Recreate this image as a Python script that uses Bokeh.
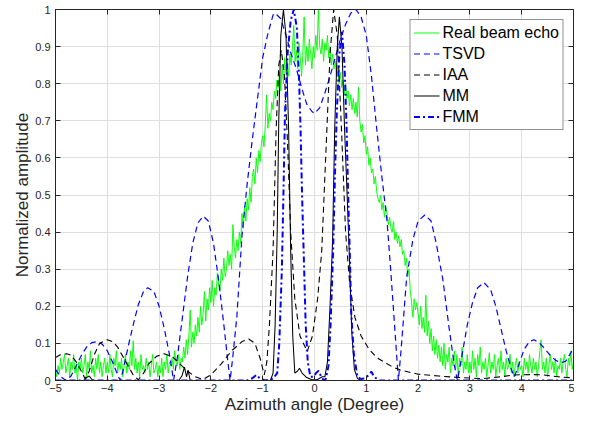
from bokeh.plotting import figure
from bokeh.models import Range1d, FixedTicker, LinearAxis
from bokeh.embed import file_html
from bokeh.resources import INLINE

# ---------------- data ----------------
x_ticks = [-5, -4, -3, -2, -1, 0, 1, 2, 3, 4, 5]
y_ticks = [0, 0.1, 0.2, 0.3, 0.4, 0.5, 0.6, 0.7, 0.8, 0.9, 1]
y_tick_labels = ["0", "0.1", "0.2", "0.3", "0.4", "0.5", "0.6", "0.7", "0.8", "0.9", "1"]

# Real beam echo, sampled every 0.025 degree from -5 to 5
green_step = 0.025
green_y = [
    0.03,0.01,0.04,0.02,0.06,0.03,0.05,0.07,0.02,0.04,0.06,0.01,0.05,0.03,0.07,0.02,0.04,0.0,0.05,0.03,
    0.06,0.02,0.04,0.07,0.01,0.05,0.03,0.08,0.02,0.04,0.01,0.06,0.03,0.07,0.02,0.05,0.01,0.04,0.06,0.02,
    0.05,0.02,0.07,0.03,0.01,0.06,0.04,0.08,0.02,0.05,0.03,0.06,0.01,0.04,0.07,0.02,0.05,0.03,0.08,0.04,
    0.107,0.03,0.06,0.02,0.05,0.01,0.07,0.03,0.04,0.02,0.06,0.03,0.05,0.01,0.04,0.07,0.02,0.03,0.05,0.01,
    0.04,0.02,0.06,0.01,0.05,0.03,0.07,0.02,0.05,0.04,0.06,0.03,0.08,0.05,0.04,0.07,0.03,0.06,0.05,0.09,
    0.06,0.11,0.07,0.12,0.19,0.09,0.13,0.1,0.15,0.12,0.17,0.13,0.2,0.15,0.18,0.24,0.16,0.22,0.19,0.25,
    0.21,0.27,0.2,0.25,0.23,0.29,0.26,0.24,0.3,0.27,0.33,0.28,0.3,0.35,0.31,0.34,0.3,0.42,0.36,0.33,
    0.38,0.35,0.4,0.37,0.45,0.41,0.47,0.43,0.49,0.46,0.52,0.48,0.55,0.57,0.53,0.6,0.56,0.62,0.59,0.64,
    0.66,0.63,0.69,0.77,0.68,0.72,0.7,0.75,0.73,0.78,0.76,0.81,0.79,0.83,0.78,0.85,0.8,0.87,0.83,0.86,
    0.82,0.88,0.85,0.9,0.957,0.86,0.89,0.84,0.91,0.87,0.82,0.88,0.98,0.85,0.9,0.86,0.92,0.88,0.84,0.9,
    0.87,0.93,0.89,1.0,0.9,0.88,0.92,0.86,0.91,0.89,0.93,0.87,0.9,0.85,0.88,0.84,0.86,0.82,0.85,0.8,
    0.83,0.79,0.81,0.77,0.8,0.76,0.78,0.74,0.77,0.73,0.76,0.72,0.75,0.71,0.79,0.7,0.67,0.69,0.64,0.66,
    0.61,0.63,0.58,0.6,0.56,0.57,0.53,0.55,0.51,0.49,0.48,0.5,0.46,0.48,0.44,0.47,0.45,0.42,0.44,0.41,
    0.4,0.43,0.38,0.4,0.37,0.39,0.36,0.38,0.34,0.35,0.31,0.33,0.28,0.3,0.24,0.21,0.17,0.22,0.19,0.21,
    0.18,0.15,0.2,0.14,0.17,0.13,0.23,0.12,0.16,0.1,0.14,0.08,0.12,0.07,0.11,0.06,0.095,0.05,0.09,0.04,
    0.1,0.03,0.07,0.05,0.09,0.02,0.06,0.04,0.08,0.03,0.07,0.01,0.06,0.04,0.09,0.02,0.05,0.03,0.07,0.02,
    0.05,0.02,0.08,0.03,0.06,0.01,0.07,0.04,0.09,0.02,0.05,0.03,0.06,0.01,0.04,0.075,0.02,0.05,0.03,0.07,
    0.01,0.04,0.06,0.02,0.08,0.03,0.05,0.01,0.06,0.03,0.04,0.07,0.02,0.05,0.01,0.04,0.06,0.02,0.05,0.03,
    0.04,0.01,0.06,0.03,0.05,0.02,0.07,0.04,0.02,0.06,0.03,0.05,0.01,0.04,0.08,0.11,0.03,0.05,0.02,0.06,
    0.01,0.04,0.07,0.03,0.05,0.02,0.06,0.01,0.04,0.03,0.06,0.02,0.05,0.07,0.03,0.01,0.06,0.04,0.08,0.03,
    0.05,
]
green_x = [round(-5 + green_step * i, 4) for i in range(len(green_y))]

tsvd_x = [-5.0,-4.9,-4.8,-4.7,-4.6,-4.5,-4.4,-4.3,-4.2,-4.1,-4.0,-3.9,-3.8,-3.75,-3.7,-3.6,-3.5,-3.4,-3.3,-3.22,
          -3.1,-3.0,-2.9,-2.8,-2.72,-2.65,-2.55,-2.45,-2.35,-2.25,-2.15,-2.05,-1.95,-1.85,-1.75,-1.68,-1.63,-1.58,
          -1.5,-1.4,-1.3,-1.2,-1.1,-1.0,-0.9,-0.8,-0.76,-0.65,-0.55,-0.45,-0.35,-0.25,-0.15,-0.05,0.0,0.1,0.2,0.3,
          0.4,0.5,0.6,0.7,0.8,0.9,1.0,1.1,1.2,1.3,1.4,1.47,1.52,1.57,1.62,1.67,1.78,1.9,2.0,2.13,2.25,2.35,2.48,
          2.6,2.7,2.76,2.85,2.95,3.05,3.15,3.27,3.4,3.5,3.6,3.7,3.8,3.86,3.95,4.05,4.15,4.24,4.35,4.45,4.55,4.65,
          4.75,4.85,4.95,5.0]
tsvd_y = [0.03,0.01,0.0,0.012,0.04,0.068,0.09,0.102,0.105,0.098,0.08,0.05,0.015,0.0,0.025,0.09,0.15,0.205,0.24,0.25,
          0.24,0.2,0.14,0.07,0.0,0.06,0.17,0.28,0.37,0.425,0.443,0.43,0.37,0.27,0.15,0.06,0.0,0.06,
          0.17,0.39,0.53,0.65,0.76,0.87,0.935,0.985,0.99,0.975,0.93,0.88,0.84,0.79,0.745,0.725,0.72,0.735,0.775,0.82,
          0.87,0.92,0.96,0.99,1.0,0.98,0.93,0.82,0.68,0.55,0.43,0.3,0.2,0.1,0.0,0.08,0.28,0.38,0.43,0.446,0.43,0.37,0.27,
          0.14,0.04,0.0,0.07,0.15,0.21,0.25,0.264,0.245,0.2,0.14,0.08,0.03,0.01,0.045,0.085,0.105,0.11,0.1,0.085,0.068,0.055,
          0.048,0.052,0.075,0.09]

iaa_x = [-5.0,-4.9,-4.78,-4.7,-4.6,-4.5,-4.43,-4.35,-4.25,-4.15,-4.0,-3.9,-3.8,-3.7,-3.6,-3.5,-3.4,-3.3,-3.2,-3.05,
         -2.9,-2.75,-2.6,-2.45,-2.3,-2.15,-2.0,-1.8,-1.6,-1.4,-1.27,-1.15,-1.05,-0.97,-0.92,-0.87,-0.8,-0.74,-0.69,-0.64,
         -0.58,-0.52,-0.46,-0.38,-0.28,-0.14,-0.04,0.06,0.14,0.24,0.3,0.37,0.44,0.52,0.6,0.68,0.78,0.9,1.05,1.2,
         1.34,1.5,1.66,2.0,2.4,2.8,3.23,3.6,3.86,4.2,4.43,4.7,5.0]
iaa_y = [0.062,0.07,0.072,0.068,0.05,0.025,0.005,0.025,0.07,0.1,0.11,0.105,0.09,0.065,0.04,0.015,0.002,0.02,0.045,0.065,
         0.072,0.065,0.045,0.025,0.01,0.003,0.015,0.045,0.08,0.105,0.112,0.1,0.06,0.015,0.05,0.15,0.35,0.68,0.85,0.89,
         0.82,0.64,0.4,0.22,0.12,0.078,0.12,0.22,0.35,0.68,0.88,1.0,0.93,0.68,0.4,0.26,0.17,0.12,0.085,0.062,
         0.05,0.037,0.028,0.017,0.012,0.008,0.005,0.01,0.015,0.016,0.015,0.01,0.007]

mm_x = [-5.0,-4.45,-4.4,-4.35,-4.3,-4.25,-2.62,-2.56,-2.51,-2.47,-2.44,-2.4,
        -0.85,-0.8,-0.76,-0.72,-0.69,-0.65,-0.6,-0.55,-0.5,-0.46,-0.42,-0.38,-0.33,-0.29,-0.24,
        -0.15,-0.05,0.05,0.15,0.2,0.25,0.3,0.35,0.39,0.44,0.48,0.53,0.58,0.63,0.67,0.72,0.77,0.83,0.9,5.0]
mm_y = [0.0,0.0,0.008,0.012,0.003,0.0,0.0,0.012,0.036,0.01,0.028,0.0,
        0.0,0.02,0.15,0.4,0.7,0.93,1.0,0.93,0.68,0.35,0.12,0.02,0.025,0.033,0.02,
        0.008,0.002,0.002,0.01,0.01,0.05,0.2,0.38,0.68,0.9,0.98,0.9,0.68,0.5,0.35,0.13,0.03,0.005,0.0,0.0]

fmm_x = [-5.0,-1.3,-1.2,-1.12,-1.05,-0.95,-0.8,-0.72,-0.68,-0.63,-0.6,-0.57,-0.52,-0.46,-0.4,-0.34,-0.3,-0.27,-0.24,-0.21,
         -0.17,-0.13,-0.08,-0.02,0.03,0.08,0.13,0.18,0.22,0.27,0.31,0.36,0.4,0.43,0.48,0.53,0.58,0.62,0.65,0.68,
         0.71,0.76,0.83,0.9,0.97,1.05,1.1,1.15,1.25,5.0]
fmm_y = [0.0,0.0,0.006,0.015,0.005,0.0,0.005,0.02,0.1,0.3,0.5,0.72,0.88,0.97,1.0,0.95,0.82,0.68,0.5,0.35,
         0.15,0.05,0.01,0.01,0.02,0.026,0.01,0.0,0.005,0.04,0.15,0.35,0.58,0.72,0.88,0.94,0.85,0.68,0.5,0.35,
         0.18,0.07,0.01,0.004,0.006,0.015,0.024,0.01,0.0,0.0]

# ---------------- figure ----------------
FONT = "Liberation Sans"
TXT = "#262626"

p = figure(width=574, height=416, x_range=Range1d(-5, 5), y_range=Range1d(0, 1),
           output_backend="svg", toolbar_location=None,
           min_border_left=55, min_border_right=1, min_border_top=9, min_border_bottom=36)
p.background_fill_color = "white"
p.border_fill_color = "white"
p.outline_line_color = TXT
p.outline_line_width = 1

p.xaxis.ticker = FixedTicker(ticks=x_ticks)
p.yaxis.ticker = FixedTicker(ticks=y_ticks)
p.yaxis.major_label_overrides = {t: l for t, l in zip(y_ticks, y_tick_labels)}

for ax in (p.xaxis[0], p.yaxis[0]):
    ax.major_tick_in = 5
    ax.major_tick_out = 0
    ax.minor_tick_line_color = None
    ax.axis_line_color = TXT
    ax.major_tick_line_color = TXT
    ax.major_label_text_font = FONT
    ax.major_label_text_font_size = "11px"
    ax.major_label_text_color = TXT
    ax.axis_label_text_font = FONT
    ax.axis_label_text_font_size = "17px"
    ax.axis_label_text_font_style = "normal"
    ax.axis_label_text_color = TXT

p.xaxis.axis_label = "Azimuth angle (Degree)"
p.yaxis.axis_label = "Normalized amplitude"
p.xaxis.major_label_standoff = 3
p.xaxis.axis_label_standoff = 0
p.yaxis.major_label_standoff = 5
p.yaxis.axis_label_standoff = 0

top_axis = LinearAxis(ticker=FixedTicker(ticks=x_ticks), major_label_text_font_size="1px",
                      major_label_text_color=None, major_label_standoff=0,
                      major_tick_in=5, major_tick_out=0,
                      minor_tick_line_color=None, axis_line_color=TXT, major_tick_line_color=TXT)
right_axis = LinearAxis(ticker=FixedTicker(ticks=y_ticks), major_label_text_font_size="1px",
                        major_label_text_color=None, major_label_standoff=0,
                        major_tick_in=5, major_tick_out=0,
                        minor_tick_line_color=None, axis_line_color=TXT, major_tick_line_color=TXT)
p.add_layout(top_axis, "above")
p.add_layout(right_axis, "right")

p.xgrid.grid_line_color = "#dfdfdf"
p.ygrid.grid_line_color = "#dfdfdf"
p.xgrid.grid_line_width = 1
p.ygrid.grid_line_width = 1

# ---------------- series ----------------
p.line(green_x, green_y, line_color="#00ff00", line_width=0.95, legend_label="Real beam echo")
p.line(tsvd_x, tsvd_y, line_color="#0000ff", line_width=1.2, line_dash="6 4", legend_label="TSVD")
p.line(iaa_x, iaa_y, line_color="#000000", line_width=1.1, line_dash="6 4", legend_label="IAA")
p.line(mm_x, mm_y, line_color="#000000", line_width=1.05, legend_label="MM")
p.line(fmm_x, fmm_y, line_color="#0000ff", line_width=2, line_dash="6 3 2 3", legend_label="FMM")

lg = p.legend[0]
lg.location = "top_right"
lg.margin = 10
lg.padding = 3
lg.spacing = 2
lg.glyph_width = 26
lg.glyph_height = 19
lg.label_height = 19
lg.label_standoff = 3
lg.label_text_font = FONT
lg.label_text_font_size = "16px"
lg.label_text_color = "black"
lg.border_line_color = TXT
lg.border_line_width = 1
lg.background_fill_color = "white"
lg.background_fill_alpha = 1.0

open("out.html", "w").write(file_html(p, INLINE))
